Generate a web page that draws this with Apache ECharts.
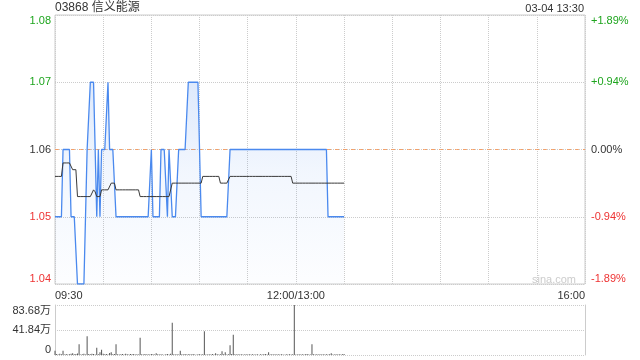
<!DOCTYPE html>
<html>
<head>
<meta charset="utf-8">
<script src="https://cdn.jsdelivr.net/npm/echarts@6/dist/echarts.min.js"></script>
<style>
html,body{margin:0;padding:0;background:#fff;}
#c{width:640px;height:360px;}
</style>
</head>
<body>
<div id="c"></div>
<script>
// ---- data ----
var stockTitle = '03868 信义能源';
var stampText = '03-04 13:30';
var prevClose = 1.06;
var priceTicks = [1.04, 1.05, 1.06, 1.07, 1.08];
var volumeTicks = [0, 418400, 836800];

var price = [
  1.05,1.05,1.05,1.05,1.05,1.06,1.06,1.06,1.06,1.06,
  1.05,1.05,1.05,1.05,1.04,1.04,1.04,1.04,1.04,1.04,
  1.06,1.06,1.07,1.07,1.07,1.07,1.05,1.06,1.05,1.06,
  1.06,1.06,1.06,1.07,1.06,1.06,1.06,1.06,1.05,1.05,
  1.05,1.05,1.05,1.05,1.05,1.05,1.05,1.05,1.05,1.05,
  1.05,1.05,1.05,1.05,1.05,1.05,1.05,1.05,1.05,1.05,
  1.06,1.05,1.05,1.05,1.05,1.05,1.06,1.06,1.06,1.06,
  1.05,1.06,1.06,1.05,1.05,1.05,1.05,1.06,1.06,1.06,
  1.06,1.06,1.06,1.07,1.07,1.07,1.07,1.07,1.07,1.07,
  1.07,1.05,1.05,1.05,1.05,1.05,1.05,1.05,1.05,1.05,
  1.05,1.05,1.05,1.05,1.05,1.05,1.05,1.05,1.05,1.06,
  1.06,1.06,1.06,1.06,1.06,1.06,1.06,1.06,1.06,1.06,
  1.06,1.06,1.06,1.06,1.06,1.06,1.06,1.06,1.06,1.06,
  1.06,1.06,1.06,1.06,1.06,1.06,1.06,1.06,1.06,1.06,
  1.06,1.06,1.06,1.06,1.06,1.06,1.06,1.06,1.06,1.06,
  1.06,1.06,1.06,1.06,1.06,1.06,1.06,1.06,1.06,1.06,
  1.06,1.06,1.06,1.06,1.06,1.06,1.06,1.06,1.06,1.06,
  1.05,1.05,1.05,1.05,1.05,1.05,1.05,1.05,1.05,1.05,
  1.05
];

var avgPrice = [
  1.056,1.056,1.056,1.056,1.056,1.058,1.058,1.058,1.058,1.058,
  1.058,1.057,1.057,1.057,1.053,1.053,1.053,1.053,1.053,1.053,
  1.053,1.053,1.053,1.053,1.054,1.0537,1.053,1.053,1.053,1.054,
  1.054,1.054,1.054,1.054,1.054,1.055,1.055,1.055,1.054,1.054,
  1.054,1.054,1.054,1.054,1.054,1.054,1.054,1.054,1.054,1.054,
  1.054,1.054,1.054,1.053,1.053,1.053,1.053,1.053,1.053,1.053,
  1.053,1.053,1.053,1.053,1.053,1.053,1.053,1.053,1.053,1.053,
  1.053,1.053,1.053,1.055,1.055,1.055,1.055,1.055,1.055,1.055,
  1.055,1.055,1.055,1.055,1.055,1.055,1.055,1.055,1.055,1.055,
  1.055,1.055,1.056,1.056,1.056,1.056,1.056,1.056,1.056,1.056,
  1.056,1.056,1.056,1.055,1.055,1.055,1.055,1.055,1.055,1.056,
  1.056,1.056,1.056,1.056,1.056,1.056,1.056,1.056,1.056,1.056,
  1.056,1.056,1.056,1.056,1.056,1.056,1.056,1.056,1.056,1.056,
  1.056,1.056,1.056,1.056,1.056,1.056,1.056,1.056,1.056,1.056,
  1.056,1.056,1.056,1.056,1.056,1.056,1.056,1.056,1.055,1.055,
  1.055,1.055,1.055,1.055,1.055,1.055,1.055,1.055,1.055,1.055,
  1.055,1.055,1.055,1.055,1.055,1.055,1.055,1.055,1.055,1.055,
  1.055,1.055,1.055,1.055,1.055,1.055,1.055,1.055,1.055,1.055,
  1.055
];

var volume = [
  72000,15000,8000,22000,12000,72000,10000,18000,9000,14000,
  20000,28000,12000,16000,24000,179000,10000,14000,20000,9000,
  312000,18000,12000,22000,16000,10000,123000,14000,45000,89000,
  20000,12000,18000,10000,33000,45000,12000,16000,179000,14000,
  8000,12000,16000,9000,20000,11000,7000,15000,12000,18000,
  10000,14000,9000,290000,12000,8000,16000,10000,13000,7000,
  15000,11000,9000,28000,12000,8000,14000,10000,6000,12000,
  16000,9000,20000,541000,11000,8000,14000,10000,72000,12000,
  9000,15000,7000,11000,13000,8000,16000,10000,6000,12000,
  14000,9000,11000,396000,10000,7000,13000,9000,15000,8000,
  28000,11000,9000,14000,61000,12000,45000,10000,14000,162000,
  16000,340000,12000,9000,11000,7000,13000,10000,8000,12000,
  9000,14000,7000,11000,10000,8000,13000,6000,12000,9000,
  11000,15000,8000,45000,10000,12000,7000,14000,9000,11000,
  8000,13000,10000,6000,12000,9000,11000,7000,14000,836800,
  10000,8000,13000,9000,12000,7000,11000,15000,8000,10000,
  179000,12000,9000,14000,8000,11000,10000,13000,7000,12000,
  9000,11000,28000,8000,10000,14000,7000,12000,9000,11000,
  15000
];

// minute categories: 09:30-12:00 then 13:01-16:00 (lunch merged)
function pad(n){ return (n < 10 ? '0' : '') + n; }
var times = [];
for (var i = 0; i <= 330; i++) {
  var mins = i <= 150 ? 570 + i : 780 + (i - 150);
  times.push(pad(Math.floor(mins / 60)) + ':' + pad(mins % 60));
}
var refLine = times.map(function(){ return prevClose; });

// ---- chart ----
var FONT = '"Liberation Sans", Arial, "Noto Sans CJK SC", sans-serif';
var GREEN = '#1ea51e', RED = '#ee3333', DARK = '#333';
function priceColor(v){
  v = Number(v);
  if (v > prevClose + 1e-9) return GREEN;
  if (v < prevClose - 1e-9) return RED;
  return DARK;
}
function pctText(v){
  var p = (Number(v) - prevClose) / prevClose * 100;
  if (Math.abs(p) < 0.005) return '0.00%';
  return (p > 0 ? '+' : '') + p.toFixed(2) + '%';
}

var chart = echarts.init(document.getElementById('c'), null, {renderer: 'canvas'});
chart.setOption({
  animation: false,
  backgroundColor: '#fff',
  textStyle: {fontFamily: FONT},
  grid: [
    {left: 55, right: 55, top: 15, height: 269, show: true, borderColor: '#cccccc', borderWidth: 1, containLabel: false},
    {left: 55, right: 55, top: 305, height: 50, containLabel: false}
  ],
  xAxis: [
    {
      type: 'category', gridIndex: 0, data: times, boundaryGap: false,
      axisLine: {show: false}, axisTick: {show: false},
      axisLabel: {
        interval: function(idx){ return idx === 0 || idx === 150 || idx === 330; },
        formatter: function(v, idx){ return idx === 150 ? '12:00/13:00' : v; },
        color: DARK, fontSize: 11, margin: 6, fontFamily: FONT,
        alignMinLabel: 'left', alignMaxLabel: 'right'
      },
      splitLine: {show: true, interval: function(idx){ return idx % 30 === 0; },
        lineStyle: {color: '#cccccc', type: 'dotted', width: 1}}
    },
    {
      type: 'category', gridIndex: 1, data: times, boundaryGap: false,
      axisLine: {show: false}, axisTick: {show: false}, axisLabel: {show: false},
      splitLine: {show: false}
    }
  ],
  yAxis: [
    {
      type: 'value', gridIndex: 0, position: 'left',
      min: priceTicks[0], max: priceTicks[priceTicks.length - 1], interval: 0.01,
      axisLine: {show: false}, axisTick: {show: false},
      splitLine: {show: true, lineStyle: {color: '#cccccc', type: 'dotted'}},
      axisLabel: {
        formatter: function(v){ return Number(v).toFixed(2); },
        color: priceColor, fontSize: 11, margin: 4, fontFamily: FONT,
        verticalAlignMinLabel: 'bottom', verticalAlignMaxLabel: 'top'
      }
    },
    {
      type: 'value', gridIndex: 0, position: 'right',
      min: priceTicks[0], max: priceTicks[priceTicks.length - 1], interval: 0.01,
      axisLine: {show: false}, axisTick: {show: false}, splitLine: {show: false},
      axisLabel: {
        formatter: pctText, color: priceColor, fontSize: 11, margin: 6, fontFamily: FONT,
        verticalAlignMinLabel: 'bottom', verticalAlignMaxLabel: 'top'
      }
    },
    {
      type: 'value', gridIndex: 1, position: 'left',
      min: volumeTicks[0], max: volumeTicks[2], interval: volumeTicks[1],
      axisLine: {show: true, lineStyle: {color: '#cccccc'}}, axisTick: {show: false},
      splitLine: {show: true, lineStyle: {color: '#cccccc', type: 'dotted'}},
      axisLabel: {
        formatter: function(v){ return v === 0 ? '0' : (v / 10000).toFixed(2) + '万'; },
        color: DARK, fontSize: 11, margin: 4, fontFamily: FONT,
        verticalAlignMinLabel: 'bottom', verticalAlignMaxLabel: 'top'
      }
    },
    {
      type: 'value', gridIndex: 1, position: 'right',
      min: volumeTicks[0], max: volumeTicks[2], interval: volumeTicks[1],
      axisLine: {show: true, lineStyle: {color: '#cccccc'}}, axisTick: {show: false},
      splitLine: {show: false}, axisLabel: {show: false}
    }
  ],
  series: [
    {
      name: 'ref', type: 'line', xAxisIndex: 0, yAxisIndex: 0, data: refLine,
      symbol: 'none', silent: true, z: 1,
      lineStyle: {color: '#f2a06a', width: 1, type: [4, 4]}
    },
    {
      name: 'price', type: 'line', xAxisIndex: 0, yAxisIndex: 0, data: price,
      symbol: 'none', z: 2,
      lineStyle: {color: '#4a89ee', width: 1.3},
      areaStyle: {
        color: new echarts.graphic.LinearGradient(0, 0, 0, 1, [
          {offset: 0, color: 'rgba(74,137,238,0.26)'},
          {offset: 0.45, color: 'rgba(74,137,238,0.10)'},
          {offset: 1, color: 'rgba(74,137,238,0.02)'}
        ])
      }
    },
    {
      name: 'avg', type: 'line', xAxisIndex: 0, yAxisIndex: 0, data: avgPrice,
      symbol: 'none', z: 3,
      lineStyle: {color: '#3a3a3a', width: 1}
    },
    {
      name: 'volume', type: 'bar', xAxisIndex: 1, yAxisIndex: 2, data: volume,
      barWidth: 1, itemStyle: {color: '#555555'}
    }
  ],
  graphic: [
    {type: 'text', left: 55, top: 2, style: {text: stockTitle, font: '12px ' + FONT, fill: '#333'}},
    {type: 'text', right: 56, top: 3, style: {text: stampText, font: '11px ' + FONT, fill: '#333'}},
    {type: 'text', left: 532, top: 274, style: {text: 'sina.com', font: '11px ' + FONT, fill: '#cccccc'}}
  ]
});
</script>
</body>
</html>
